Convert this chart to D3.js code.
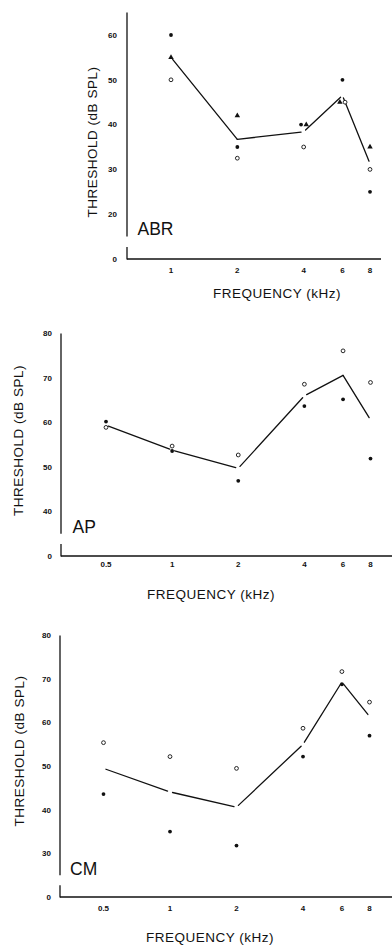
<!DOCTYPE html>
<html>
<head>
<meta charset="utf-8">
<script src="https://cdn.jsdelivr.net/npm/d3@7"></script>
<style>
  body { margin: 0; background: #fff; }
  svg { display: block; font-family: "Liberation Sans", Arial, sans-serif; }
  .tick-label { font-size: 8px; font-weight: bold; fill: #111; }
  .axis-title { font-size: 13.5px; letter-spacing: 0.5px; fill: #111; }
  .panel-label { font-size: 17.5px; fill: #111; }
</style>
</head>
<body>
<div id="chart"></div>
<script>
/* ── Threshold vs frequency: ABR / AP / CM ───────────────── */

// ABR panel
const abrFreq     = [1, 2, 4, 6, 8];
const abrFilled   = [60, 35, 40, 50, 25];
const abrTriangle = [55, 42, 40, 45, 35];
const abrOpen     = [50, 32.5, 35, 45, 30];
const abrMean     = [55, 36.7, 38.4, 46.5, 31.3];
const abrYTicks   = [0, 20, 30, 40, 50, 60];
const abrXTicks   = [1, 2, 4, 6, 8];

// AP panel
const apFreq   = [0.5, 1, 2, 4, 6, 8];
const apOpen   = [58.9, 54.7, 52.7, 68.6, 76.1, 69];
const apFilled = [60.2, 53.6, 46.9, 63.7, 65.2, 51.9];
const apMean   = [59.4, 53.8, 49.7, 66, 70.6, 60.6];
const apYTicks = [0, 40, 50, 60, 70, 80];
const apXTicks = [0.5, 1, 2, 4, 6, 8];

// CM panel
const cmFreq   = [0.5, 1, 2, 4, 6, 8];
const cmOpen   = [55.4, 52.2, 49.5, 58.7, 71.7, 64.7];
const cmFilled = [43.6, 35, 31.8, 52.2, 68.8, 57];
const cmMean   = [49.5, 44.1, 40.6, 55, 69.3, 61.4];
const cmYTicks = [0, 30, 40, 50, 60, 70, 80];
const cmXTicks = [0.5, 1, 2, 4, 6, 8];

const W = 392, H = 945;

const svg = d3.select('#chart').append('svg')
  .attr('width', W)
  .attr('height', H);

const panels = [
  {
    label: 'ABR', freq: abrFreq, mean: abrMean, yTicks: abrYTicks, xTicks: abrXTicks,
    series: [['filled', abrFilled], ['triangle', abrTriangle], ['open', abrOpen]],
    yTop: 65, xDomain: [1, 8], xRange: [171, 370],
    axisX: 127, baseY: 259, step: 44.8, xEnd: 381,
    tickLabelX: 117, tickLabelY: 273, xTitleX: 277, xTitleY: 297.5,
    yTitleX: 96.5, yTitleY: 142, labelX: 137.5, labelY: 235,
    joined: [1]
  },
  {
    label: 'AP', freq: apFreq, mean: apMean, yTicks: apYTicks, xTicks: apXTicks,
    series: [['filled', apFilled], ['open', apOpen]],
    yTop: 80, xDomain: [0.5, 8], xRange: [106, 370.5],
    axisX: 61, baseY: 556, step: 44.5, xEnd: 392,
    tickLabelX: 52, tickLabelY: 567, xTitleX: 211, xTitleY: 599,
    yTitleX: 23, yTitleY: 440.5, labelX: 72.5, labelY: 533,
    joined: [4]
  },
  {
    label: 'CM', freq: cmFreq, mean: cmMean, yTicks: cmYTicks, xTicks: cmXTicks,
    series: [['filled', cmFilled], ['open', cmOpen]],
    yTop: 80, xDomain: [0.5, 8], xRange: [103.5, 369.5],
    axisX: 60, baseY: 897, step: 43.6, xEnd: 392,
    tickLabelX: 51, tickLabelY: 911, xTitleX: 210, xTitleY: 942,
    yTitleX: 23.5, yTitleY: 751, labelX: 70, labelY: 875,
    joined: []
  }
];

panels.forEach(drawPanel);

function drawPanel(p) {
  const g = svg.append('g');
  const lo = p.yTicks[1];

  // Broken y scale: 0 sits one step below the lowest real tick
  const y = d3.scaleLinear()
    .domain([0, lo, p.yTop])
    .range([p.baseY, p.baseY - p.step, p.baseY - p.step - (p.yTop - lo) * p.step / 10]);

  const x = d3.scaleLog().base(2)
    .domain(p.xDomain)
    .range(p.xRange);

  // Y axis line with a break above zero
  const yLow = y(lo);
  g.append('line')
    .attr('x1', p.axisX).attr('x2', p.axisX)
    .attr('y1', y(p.yTop)).attr('y2', yLow + p.step * 0.5)
    .attr('stroke', '#111').attr('stroke-width', 1.3);
  g.append('line')
    .attr('x1', p.axisX).attr('x2', p.axisX)
    .attr('y1', yLow + p.step * 0.73).attr('y2', p.baseY + 0.6)
    .attr('stroke', '#111').attr('stroke-width', 1.3);

  // X axis line
  g.append('line')
    .attr('x1', p.axisX).attr('x2', p.xEnd)
    .attr('y1', p.baseY).attr('y2', p.baseY)
    .attr('stroke', '#111').attr('stroke-width', 1.4);

  // Y tick labels
  g.selectAll('.ylab')
    .data(p.yTicks)
    .join('text')
    .attr('class', 'tick-label')
    .attr('x', p.tickLabelX)
    .attr('y', d => y(d))
    .attr('dy', '0.35em')
    .attr('text-anchor', 'end')
    .text(d => d);

  // X tick labels
  g.selectAll('.xlab')
    .data(p.xTicks)
    .join('text')
    .attr('class', 'tick-label')
    .attr('x', d => x(d))
    .attr('y', p.tickLabelY)
    .attr('text-anchor', 'middle')
    .text(d => d);

  // Axis titles
  g.append('text')
    .attr('class', 'axis-title')
    .attr('x', p.xTitleX)
    .attr('y', p.xTitleY)
    .attr('text-anchor', 'middle')
    .text('FREQUENCY (kHz)');

  g.append('text')
    .attr('class', 'axis-title')
    .attr('transform', `translate(${p.yTitleX},${p.yTitleY}) rotate(-90)`)
    .attr('text-anchor', 'middle')
    .text('THRESHOLD (dB SPL)');

  // Panel label
  g.append('text')
    .attr('class', 'panel-label')
    .attr('x', p.labelX)
    .attr('y', p.labelY)
    .text(p.label);

  // Mean line, drawn as separate segments with small gaps at most points
  const pts = p.freq.map((f, i) => [x(f), y(p.mean[i])]);
  const trim = 2.6;
  for (let i = 0; i < pts.length - 1; i++) {
    const [x1, y1] = pts[i], [x2, y2] = pts[i + 1];
    const len = Math.hypot(x2 - x1, y2 - y1);
    const ux = (x2 - x1) / len, uy = (y2 - y1) / len;
    const t1 = p.joined.includes(i) ? 0 : trim;
    const t2 = p.joined.includes(i + 1) ? 0 : trim;
    g.append('line')
      .attr('x1', x1 + ux * t1).attr('y1', y1 + uy * t1)
      .attr('x2', x2 - ux * t2).attr('y2', y2 - uy * t2)
      .attr('stroke', '#111')
      .attr('stroke-width', 1.3)
      .attr('stroke-linecap', 'round');
  }

  // Markers: nudge symbols sideways when two series share a value
  const nudge = (name, i) => {
    const v = p.series.find(s => s[0] === name)[1][i];
    const same = p.series.filter(s => s[1][i] === v).map(s => s[0]);
    if (same.length < 2) return 0;
    return same.indexOf(name) === 0 ? -2.6 : 2.6;
  };

  p.series.forEach(([name, values]) => {
    const marks = g.selectAll(null)
      .data(values.map((v, i) => ({ v, i, f: p.freq[i] })))
      .join('g')
      .attr('transform', d => `translate(${x(d.f) + nudge(name, d.i)},${y(d.v)})`);

    if (name === 'filled') {
      marks.append('circle').attr('r', 1.9).attr('fill', '#111');
    } else if (name === 'open') {
      marks.append('circle').attr('r', 1.9)
        .attr('fill', '#fff').attr('stroke', '#111').attr('stroke-width', 0.9);
    } else {
      marks.append('path')
        .attr('d', d3.symbol(d3.symbolTriangle, 13))
        .attr('fill', '#111');
    }
  });
}
</script>
</body>
</html>
